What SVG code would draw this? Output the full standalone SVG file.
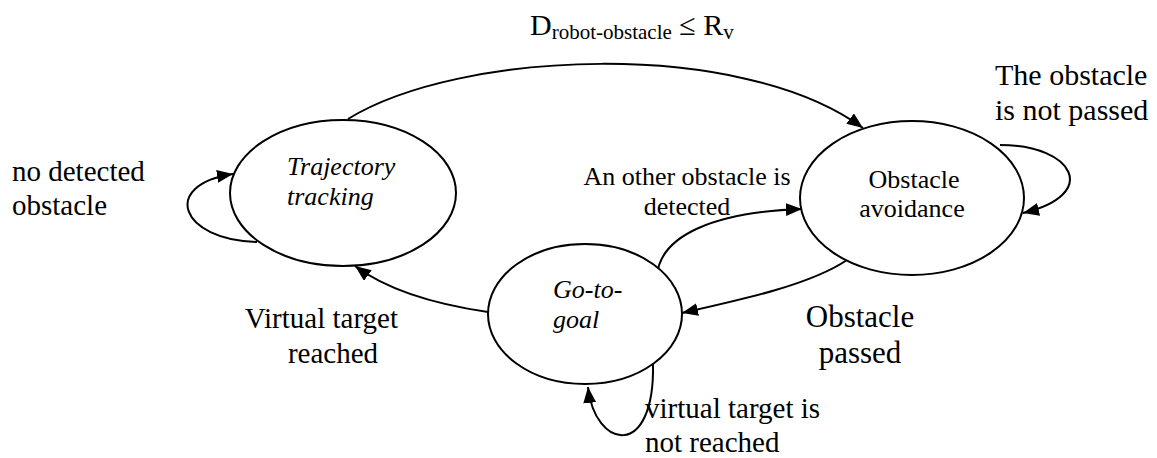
<svg xmlns="http://www.w3.org/2000/svg" width="1157" height="458" viewBox="0 0 1157 458">
<style>
  .node { fill: #ffffff; stroke: #000000; stroke-width: 2; }
  .edge { fill: none; stroke: #000000; stroke-width: 2; marker-end: url(#arrow); }
  .nl { font-size: 26px; font-style: italic; }
  .nr { font-size: 26px; }
</style>
<defs>
  <marker id="arrow" markerUnits="userSpaceOnUse" markerWidth="18" markerHeight="14" refX="16" refY="6.5" orient="auto">
    <path d="M0,0 L16,6.5 L0,13 Z" fill="#000000"/>
  </marker>
</defs>
<rect width="1157" height="458" fill="#ffffff"/>

<g id="connectors">
  <path class="edge" d="M348,119 C 460,50 740,38 863,128"/>
  <path class="edge" d="M257,242 C 180,240 160,185 233,174"/>
  <path class="edge" d="M488,312 C 440,305 390,292 355,266"/>
  <path class="edge" d="M847,260 C 810,285 740,300 682,313"/>
  <path class="edge" d="M657,276 C 660,235 715,212 802,209"/>
  <path class="edge" d="M1000,145 C 1075,145 1100,195 1023,213"/>
  <path class="edge" d="M653,364 C 655,460 595,450 588,387"/>
</g>

<g id="node-trajectory" font-family="Liberation Serif, serif">
  <ellipse class="node" cx="343" cy="193" rx="113" ry="73"/>
  <text class="nl" x="287" y="175">Trajectory</text>
  <text class="nl" x="287" y="205">tracking</text>
</g>

<g id="node-obstacle" font-family="Liberation Serif, serif">
  <ellipse class="node" cx="912" cy="198" rx="112" ry="77"/>
  <text class="nr" x="914" y="188" text-anchor="middle">Obstacle</text>
  <text class="nr" x="912" y="217" text-anchor="middle">avoidance</text>
</g>

<g id="node-goal" font-family="Liberation Serif, serif">
  <ellipse class="node" cx="585" cy="314" rx="97" ry="70"/>
  <text class="nl" x="553" y="298">Go-to-</text>
  <text class="nl" x="553" y="328">goal</text>
</g>

<g id="labels" font-family="Liberation Serif, serif">
  <text x="530" y="35" font-size="30">D<tspan font-size="21" dy="4">robot-obstacle</tspan><tspan dy="-4"> ≤ R</tspan><tspan font-size="21" dy="4">v</tspan></text>
  <text x="12" y="181" font-size="29">no detected</text>
  <text x="12" y="215" font-size="29">obstacle</text>
  <text x="995" y="85" font-size="30">The obstacle</text>
  <text x="995" y="120" font-size="30">is not passed</text>
  <text x="687" y="185" font-size="26" text-anchor="middle">An other obstacle is</text>
  <text x="687" y="215" font-size="26" text-anchor="middle">detected</text>
  <text x="645" y="418" font-size="29">virtual target is</text>
  <text x="645" y="452" font-size="29">not reached</text>
  <text x="398" y="328" font-size="29" text-anchor="end">Virtual target</text>
  <text x="333" y="363" font-size="29" text-anchor="middle">reached</text>
  <text x="860" y="327" font-size="31" text-anchor="middle">Obstacle</text>
  <text x="860" y="363" font-size="31" text-anchor="middle">passed</text>
</g>
</svg>
